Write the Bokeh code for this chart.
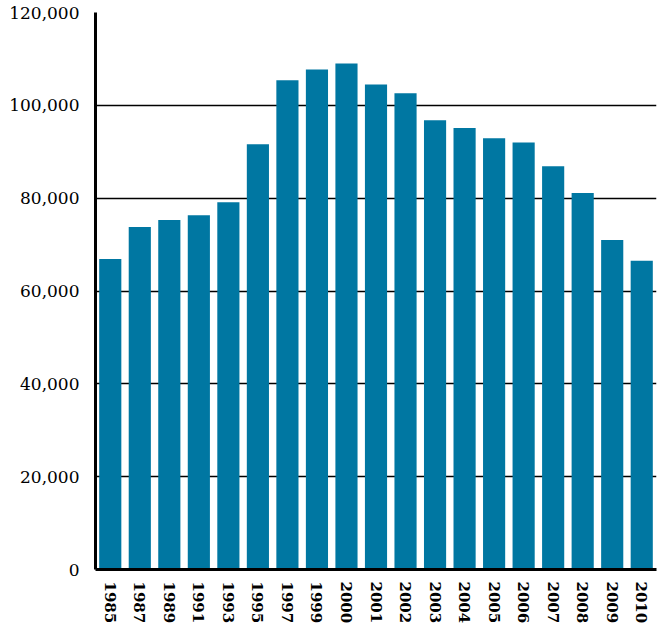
from bokeh.plotting import figure
from bokeh.models import FactorRange, Range1d, FixedTicker, NumeralTickFormatter
from bokeh.embed import file_html
from bokeh.resources import INLINE

years = ["1985", "1987", "1989", "1991", "1993", "1995", "1997", "1999", "2000",
         "2001", "2002", "2003", "2004", "2005", "2006", "2007", "2008", "2009", "2010"]
values = [66900, 73800, 75300, 76300, 79100, 91600, 105400, 107700, 109000,
          104500, 102600, 96800, 95100, 92900, 92000, 86900, 81100, 71000, 66500]
y_ticks = [0, 20000, 40000, 60000, 80000, 100000, 120000]

p = figure(x_range=FactorRange(*years, range_padding=0), y_range=Range1d(0, 120000),
           width=661, height=626, output_backend="svg", toolbar_location=None,
           min_border_left=95, min_border_right=5, min_border_top=12, min_border_bottom=55)

p.vbar(x=years, top=values, width=0.75, color="#0077a2", line_color=None)

p.outline_line_color = None
p.xgrid.grid_line_color = None
p.ygrid.grid_line_color = "black"
p.ygrid.grid_line_width = 1.5
p.ygrid.ticker = FixedTicker(ticks=y_ticks)

p.yaxis.ticker = FixedTicker(ticks=y_ticks)
p.yaxis.formatter = NumeralTickFormatter(format="0,0")
p.yaxis.axis_line_width = 3
p.yaxis.axis_line_color = "black"
p.yaxis.major_tick_line_color = None
p.yaxis.minor_tick_line_color = None
p.yaxis.major_label_text_font = "DejaVu Serif"
p.yaxis.major_label_text_font_size = "17px"
p.yaxis.major_label_text_color = "black"
p.yaxis.major_label_standoff = 10

p.xaxis.axis_line_width = 3
p.xaxis.axis_line_color = "black"
p.xaxis.major_tick_line_color = None
p.xaxis.minor_tick_line_color = None
p.xaxis.major_label_orientation = "vertical"
p.xaxis.major_label_text_font = "DejaVu Serif"
p.xaxis.major_label_text_font_style = "bold"
p.xaxis.major_label_text_font_size = "15px"
p.xaxis.major_label_text_color = "black"
p.xaxis.major_label_standoff = 6

open("out.html", "w").write(file_html(p, INLINE))
